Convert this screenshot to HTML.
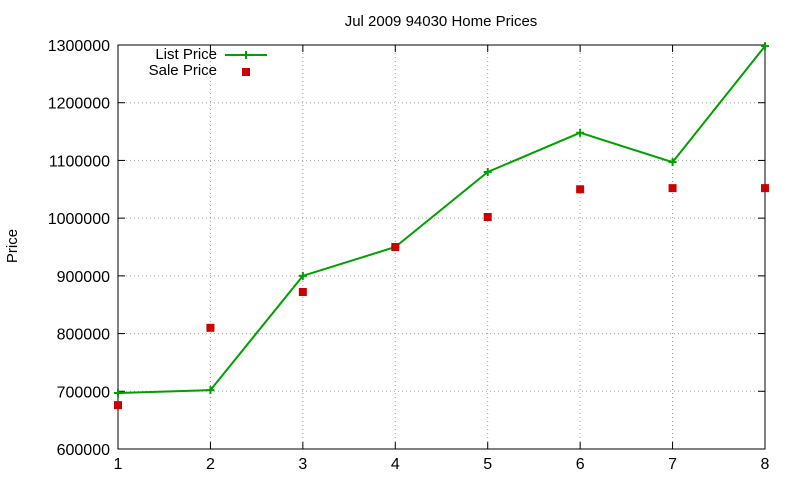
<!DOCTYPE html>
<html><head><meta charset="utf-8"><style>
body{margin:0;background:#fff;}
svg{display:block;font-family:"Liberation Sans",sans-serif;}
</style></head><body>
<svg id="chart" width="800" height="480"></svg>
<script>
const categories=[1,2,3,4,5,6,7,8];
const listPrice=[697000,702000,900000,950000,1080000,1148000,1097000,1298000];
const salePrice=[676000,810000,872000,950000,1002000,1050000,1052000,1052000];
const yTicks=[600000,700000,800000,900000,1000000,1100000,1200000,1300000];
const xTicks=[1,2,3,4,5,6,7,8];

const svg=document.getElementById('chart');
const NS='http://www.w3.org/2000/svg';
const L=118,R=765,T=45,B=449;
const xs=v=>L+(v-1)/(8-1)*(R-L);
const ys=v=>B-(v-600000)/(1300000-600000)*(B-T);
function mk(tag,attrs,parent){const e=document.createElementNS(NS,tag);for(const k in attrs)e.setAttribute(k,attrs[k]);(parent||svg).appendChild(e);return e;}

const grid=mk('g',{});


yTicks.forEach(v=>{mk('line',{x1:L,x2:R,y1:ys(v),y2:ys(v),stroke:'#a0a0a0','stroke-dasharray':'1,3','stroke-width':1},grid);});
xTicks.forEach(v=>{mk('line',{x1:xs(v),x2:xs(v),y1:T,y2:B,stroke:'#a0a0a0','stroke-dasharray':'1,3','stroke-width':1},grid);});

yTicks.forEach(v=>{
  mk('line',{x1:L,x2:L+7,y1:ys(v),y2:ys(v),stroke:'#000'});
  mk('line',{x1:R,x2:R-7,y1:ys(v),y2:ys(v),stroke:'#000'});
  const t=mk('text',{x:L-8,y:ys(v)+6,'text-anchor':'end','font-size':16});
  t.textContent=v;
  
  
});
xTicks.forEach(v=>{
  mk('line',{x1:xs(v),x2:xs(v),y1:B,y2:B-7,stroke:'#000'});
  mk('line',{x1:xs(v),x2:xs(v),y1:T,y2:T+7,stroke:'#000'});
  const t=mk('text',{x:xs(v),y:B+20,'text-anchor':'middle','font-size':16});
  t.textContent=v;
  
  
});
const border=mk('rect',{x:L,y:T,width:R-L,height:B-T,fill:'none',stroke:'#000'});



const title=mk('text',{x:441,y:26,'text-anchor':'middle','font-size':15});
title.textContent='Jul 2009 94030 Home Prices';


const yt=mk('text',{x:17,y:246,'text-anchor':'middle','font-size':15,transform:'rotate(-90 17 246)'});
yt.textContent='Price';



const pts=categories.map((c,i)=>xs(c)+','+ys(listPrice[i])).join(' ');
const line=mk('polyline',{points:pts,fill:'none',stroke:'#00a000','stroke-width':2});


categories.forEach((c,i)=>{
  const x=xs(c),y=ys(listPrice[i]);
  const g=mk('path',{d:`M${x-4},${y}H${x+4}M${x},${y-4}V${y+4}`,stroke:'#00a000','stroke-width':2});
  
  
});
categories.forEach((c,i)=>{
  const x=xs(c),y=ys(salePrice[i]);
  const s=mk('rect',{x:x-4,y:y-4,width:8,height:8,fill:'#cc0000'});
  
  
});

const lg=mk('g',{});


const t1=mk('text',{x:217,y:59,'text-anchor':'end','font-size':15},lg);t1.textContent='List Price';
mk('line',{x1:225,x2:267,y1:55,y2:55,stroke:'#00a000','stroke-width':2},lg);
mk('path',{d:'M242,55H250M246,51V59',stroke:'#00a000','stroke-width':2},lg);
const t2=mk('text',{x:217,y:75,'text-anchor':'end','font-size':15},lg);t2.textContent='Sale Price';
mk('rect',{x:242,y:68,width:8,height:8,fill:'#cc0000'},lg);
</script>
</body></html>
